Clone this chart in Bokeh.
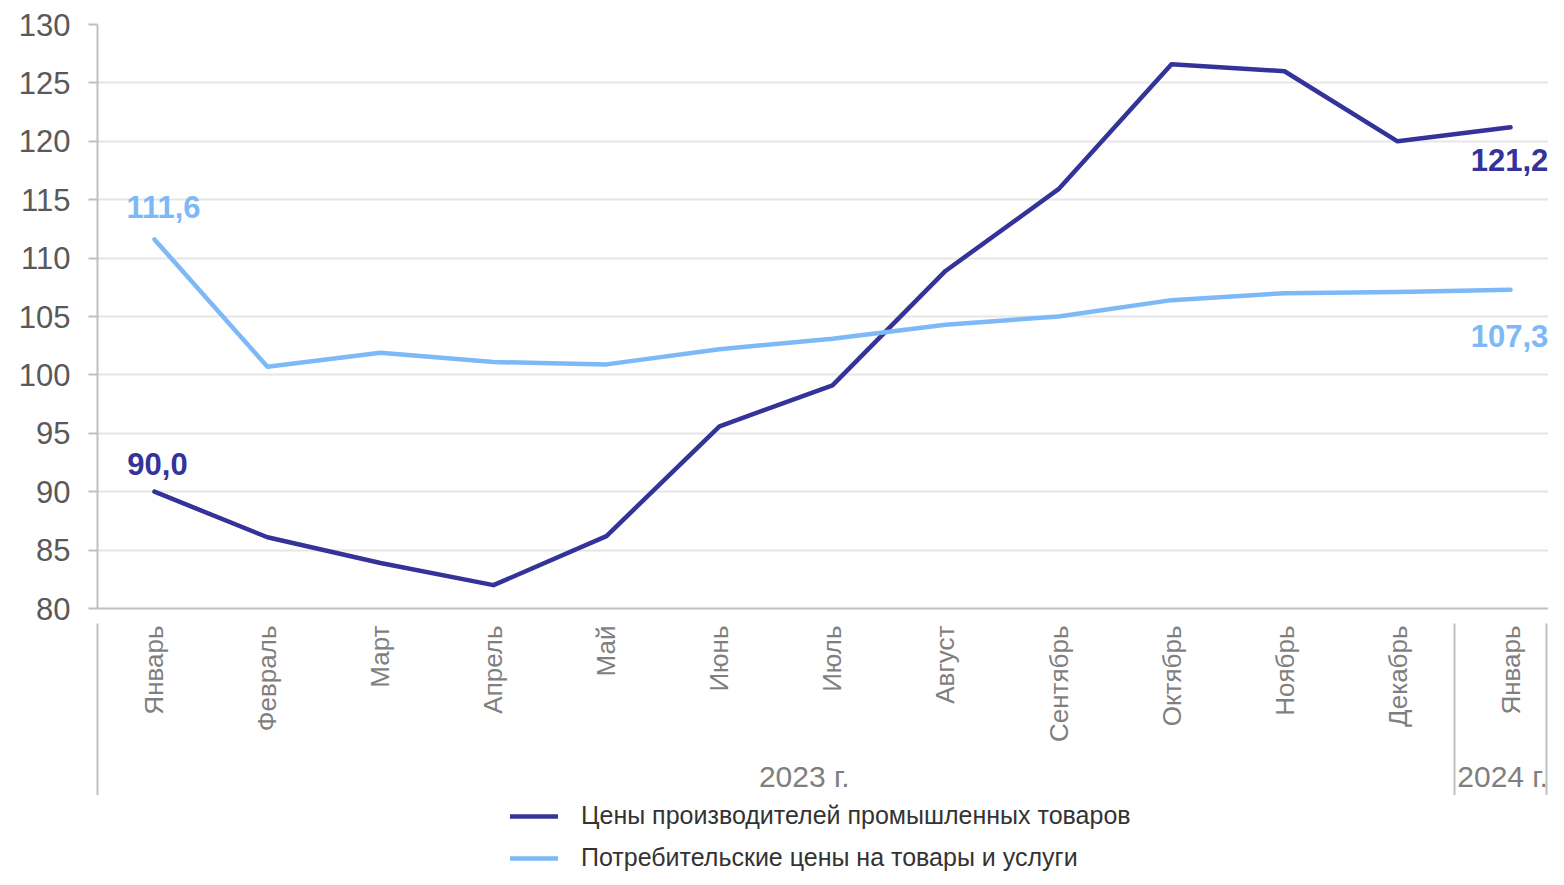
import math
from bokeh.plotting import figure
from bokeh.layouts import column
from bokeh.models import Range1d, LinearAxis, FixedTicker, Legend, LegendItem
from bokeh.core.properties import value
from bokeh.embed import file_html
from bokeh.resources import INLINE

# ---------------- data ----------------
months = ["Январь", "Февраль", "Март", "Апрель", "Май", "Июнь", "Июль",
          "Август", "Сентябрь", "Октябрь", "Ноябрь", "Декабрь", "Январь"]
years = ["2023 г.", "2024 г."]
ppi = [90.0, 86.1, 83.9, 82.0, 86.2, 95.6, 99.1, 108.9, 115.9, 126.6, 126.0, 120.0, 121.2]
cpi = [111.6, 100.7, 101.9, 101.1, 100.9, 102.2, 103.1, 104.3, 105.0, 106.4, 107.0, 107.1, 107.3]
y_ticks = [80, 85, 90, 95, 100, 105, 110, 115, 120, 125, 130]
series_names = ["Цены производителей промышленных товаров",
                "Потребительские цены на товары и услуги"]

# ---------------- style / layout ----------------
FONT = "Liberation Sans"
DARK = "#333399"
LIGHT = "#7DB9F6"
GRID = "#e6e6e6"
AXIS = "#c0c0c0"
year_pos = [5.75, 11.93]          # label positions of year groups
separators = [-0.5, 11.5, 12.32]  # group separator positions
SEP_START, SEP_END = 15, 192      # separator extent below the axis (px)
W = 1548
MAIN_BOTTOM = 184
LEG_H = 77

x = list(range(len(months)))

def fmt(v):
    return f"{v:.1f}".replace(".", ",")

p = figure(frame_width=1451, frame_height=584,
           x_range=Range1d(-0.504, 12.336), y_range=Range1d(y_ticks[0], y_ticks[-1]),
           output_backend="svg", toolbar_location=None,
           x_axis_location=None, y_axis_location="left",
           min_border_left=97, min_border_top=24, min_border_right=0,
           min_border_bottom=MAIN_BOTTOM)
p.outline_line_color = None
p.background_fill_color = "white"
p.border_fill_color = "white"
p.xgrid.visible = False
p.ygrid.ticker = FixedTicker(ticks=y_ticks)
p.ygrid.grid_line_color = GRID
p.ygrid.grid_line_width = 2

ya = p.yaxis[0]
ya.ticker = FixedTicker(ticks=y_ticks)
ya.major_label_text_font = FONT
ya.major_label_text_font_size = "31px"
ya.major_label_text_color = "#595959"
ya.axis_line_color = AXIS
ya.axis_line_width = 2
ya.major_tick_line_color = AXIS
ya.major_tick_line_width = 2
ya.major_tick_out = 9
ya.major_tick_in = 0
ya.minor_tick_line_color = None
ya.major_label_standoff = 18

# month axis (minor ticks act as group separators)
xa = LinearAxis(ticker=FixedTicker(ticks=x, minor_ticks=separators),
                major_label_overrides={i: m for i, m in enumerate(months)},
                major_label_orientation=math.pi / 2)
xa.major_label_text_font = FONT
xa.major_label_text_font_size = "26px"
xa.major_label_text_color = "#7f7f7f"
xa.major_label_standoff = 17 - SEP_END
xa.axis_line_color = AXIS
xa.axis_line_width = 2
xa.major_tick_line_color = None
xa.major_tick_out = 0
xa.major_tick_in = 0
xa.minor_tick_line_color = AXIS
xa.minor_tick_line_width = 2
xa.minor_tick_in = -SEP_START
xa.minor_tick_out = SEP_END
p.add_layout(xa, "below")

# year axis
yr = LinearAxis(ticker=FixedTicker(ticks=year_pos, minor_ticks=[]),
                major_label_overrides={pos: y for pos, y in zip(year_pos, years)})
yr.major_label_text_font = FONT
yr.major_label_text_font_size = "30px"
yr.major_label_text_color = "#7f7f7f"
yr.major_label_standoff = 15
yr.axis_line_color = None
yr.major_tick_line_color = None
yr.major_tick_out = 0
yr.major_tick_in = 0
yr.minor_tick_line_color = None
yr.minor_tick_out = 0
yr.minor_tick_in = 0
p.add_layout(yr, "below")

line_kw = dict(line_width=4.5, line_join="round", line_cap="round")
r1 = p.line(x, ppi, line_color=DARK, **line_kw)
r2 = p.line(x, cpi, line_color=LIGHT, **line_kw)

# data labels (first and last points)
lbl_kw = dict(text_font=value(FONT), text_font_size="31px", text_font_style="bold",
              text_align="center", text_baseline="middle")
p.text(x=[x[0]], y=[cpi[0]], text=[fmt(cpi[0])], text_color=LIGHT, x_offset=9, y_offset=-32, **lbl_kw)
p.text(x=[x[0]], y=[ppi[0]], text=[fmt(ppi[0])], text_color=DARK, x_offset=3, y_offset=-28, **lbl_kw)
p.text(x=[x[-1]], y=[ppi[-1]], text=[fmt(ppi[-1])], text_color=DARK, x_offset=-1, y_offset=33, **lbl_kw)
p.text(x=[x[-1]], y=[cpi[-1]], text=[fmt(cpi[-1])], text_color=LIGHT, x_offset=-1, y_offset=46, **lbl_kw)

# ---------------- legend strip below the chart ----------------
lf = figure(width=W, height=LEG_H, x_range=Range1d(0, 1), y_range=Range1d(0, 1),
            output_backend="svg", toolbar_location=None,
            x_axis_location=None, y_axis_location=None,
            min_border_left=0, min_border_right=0, min_border_top=0, min_border_bottom=0)
lf.outline_line_color = None
lf.grid.visible = False
lf.background_fill_color = "white"
lf.border_fill_color = "white"
# same series drawn into this strip (outside its visible range) to feed the legend
l1 = lf.line(x, ppi, line_color=DARK, **line_kw)
l2 = lf.line(x, cpi, line_color=LIGHT, **line_kw)

legend = Legend(items=[LegendItem(label=series_names[0], renderers=[l1]),
                       LegendItem(label=series_names[1], renderers=[l2])],
                location=(413, 0), orientation="vertical")
legend.label_text_font = FONT
legend.label_text_font_size = "25px"
legend.label_text_color = "#333333"
legend.glyph_width = 48
legend.glyph_height = 28
legend.label_height = 28
legend.label_standoff = 23
legend.spacing = 13
legend.padding = 0
legend.margin = 0
legend.border_line_color = None
legend.background_fill_alpha = 0
lf.add_layout(legend)

layout = column(p, lf, spacing=0)

with open("out.html", "w", encoding="utf-8") as f:
    f.write(file_html(layout, INLINE, title="chart"))
